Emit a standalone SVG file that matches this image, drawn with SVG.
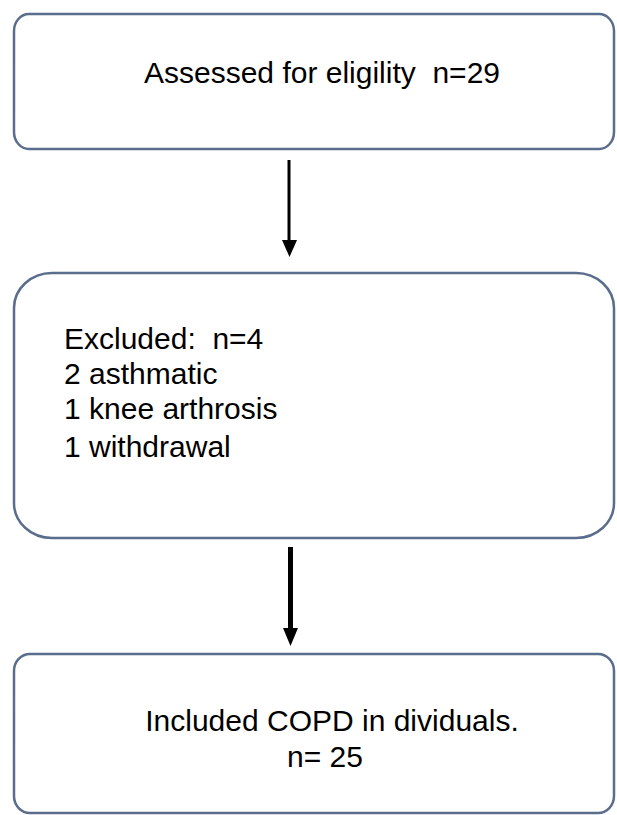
<svg xmlns="http://www.w3.org/2000/svg" width="617" height="815" viewBox="0 0 617 815">
<style>
.box{fill:#ffffff;stroke:#5a6d8c;stroke-width:2.5}
.t{font-family:"Liberation Sans",Arial,sans-serif;font-size:30px;fill:#000}
.c{stroke:#000;fill:none}
</style>
<rect width="617" height="815" fill="#ffffff"/>
<g id="n1">
<rect class="box" x="14" y="14" width="600" height="135" rx="15" ry="17"/>
<text class="t" x="322" y="83" text-anchor="middle" xml:space="preserve">Assessed for eligility  n=29</text>
</g>
<g id="n2">
<rect class="box" x="14" y="273" width="600" height="265" rx="38" ry="35"/>
<text class="t" x="64" y="349" xml:space="preserve">Excluded:  n=4</text>
<text class="t" x="64" y="384">2 asthmatic</text>
<text class="t" x="64" y="419">1 knee arthrosis</text>
<text class="t" x="64" y="457">1 withdrawal</text>
</g>
<g id="n3">
<rect class="box" x="14" y="654" width="600" height="159" rx="16" ry="17"/>
<text class="t" x="332" y="731" text-anchor="middle">Included COPD in dividuals.</text>
<text class="t" x="325" y="767" text-anchor="middle">n= 25</text>
</g>
<g id="connectors">
<line class="c" x1="289" y1="160" x2="289" y2="244" stroke-width="3"/>
<polygon points="282,240 297,240 289.5,257" fill="#000"/>
<line class="c" x1="290.5" y1="547" x2="290.5" y2="632" stroke-width="5"/>
<polygon points="283,628 298,628 290.5,646" fill="#000"/>
</g>
</svg>
